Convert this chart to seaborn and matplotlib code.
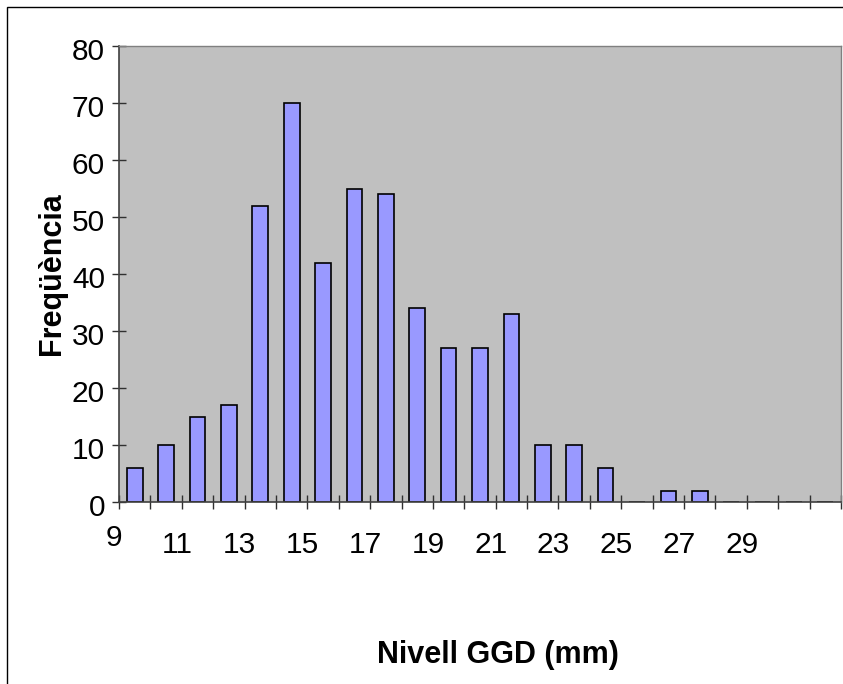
import matplotlib
matplotlib.use("Agg")
import matplotlib.pyplot as plt
import matplotlib.patches as mpatches
from matplotlib.transforms import ScaledTranslation
import seaborn as sns
import pandas as pd

# ---- data ----
bin_start = [str(v) for v in range(9, 32)]          # 23 bins of 1 mm
freq = [6, 10, 15, 17, 52, 70, 42, 55, 54, 34, 27, 27, 33,
        10, 10, 6, 0, 2, 2, 0, 0, 0, 0]
tick_values = [9, 11, 13, 15, 17, 19, 21, 23, 25, 27, 29]
y_ticks = [0, 10, 20, 30, 40, 50, 60, 70, 80]
x_label = "Nivell GGD (mm)"
y_label = "Freqüència"

df = pd.DataFrame({"bin": bin_start, "freq": freq})

sns.set_theme(style="white")
plt.rcParams["font.family"] = ["Liberation Sans", "DejaVu Sans"]
plt.rcParams["text.color"] = "black"
plt.rcParams["axes.labelcolor"] = "black"
plt.rcParams["xtick.color"] = "black"
plt.rcParams["ytick.color"] = "black"

W, H = 843, 684
fig = plt.figure(figsize=(W / 100, H / 100), dpi=100)
fig.patch.set_facecolor("white")
ax = fig.add_axes([119 / W, 1 - 502 / H, (841 - 119) / W, (502 - 46) / H])
ax.set_facecolor("#C0C0C0")

sns.barplot(data=df, x="bin", y="freq", order=bin_start, color="#9999FF",
            saturation=1, edgecolor="black", linewidth=1.2, width=0.5, ax=ax)

n = len(bin_start)
ax.set_xlim(-0.5, n - 0.5)
ax.set_ylim(0, 80)
ax.set_yticks(y_ticks)
ax.set_yticklabels([str(v) for v in y_ticks])

# ticks at bin boundaries, labels every other boundary
bounds = [i - 0.5 for i in range(n + 1)]
edge_vals = [9 + i for i in range(n + 1)]
labels = [str(v) if v in tick_values else "" for v in edge_vals]
ax.set_xticks(bounds)
ax.set_xticklabels(labels)

ax.tick_params(axis="both", direction="inout", length=10, width=1,
               color="#303030", labelsize=21.5, labelcolor="black")
ax.tick_params(axis="x", pad=16)
ax.tick_params(axis="y", pad=5)
ax.tick_params(bottom=True, left=True)

for side in ["left", "bottom"]:
    ax.spines[side].set_color("#404040")
    ax.spines[side].set_linewidth(1.2)
for side in ["top", "right"]:
    ax.spines[side].set_color("#808080")
    ax.spines[side].set_linewidth(1)
    ax.spines[side].set_visible(True)

ax.set_xlabel(x_label, fontsize=22, fontweight="bold", va="center", color="black")
ax.xaxis.set_label_coords((497.5 - 119) / (841 - 119), (502 - 655) / (502 - 46))
ax.set_ylabel(y_label, fontsize=22, fontweight="bold", va="center", color="black")
ax.yaxis.set_label_coords((52 - 119) / (841 - 119), (502 - 274) / (502 - 46))

# chart-area border (Excel style)
fig.patches.append(mpatches.Rectangle((7 / W, -0.05), 1.0, 1 - 7 / H + 0.05,
                                      transform=fig.transFigure, fill=False,
                                      edgecolor="black", linewidth=1))

# label offsets as in the reference
for lab in ax.get_xticklabels():
    dy = 7 if lab.get_text() == "9" else 0
    lab.set_transform(lab.get_transform() + ScaledTranslation(-5 / 100, dy / 100, fig.dpi_scale_trans))
for lab in ax.get_yticklabels():
    lab.set_transform(lab.get_transform() + ScaledTranslation(0, -3 / 100, fig.dpi_scale_trans))

fig.savefig("out.png", dpi=100)
